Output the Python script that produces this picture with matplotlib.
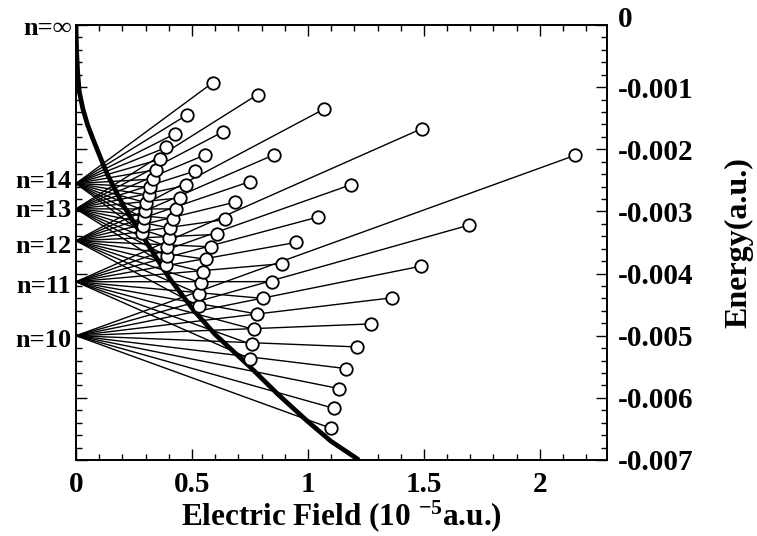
import numpy as np
import matplotlib
matplotlib.use("Agg")
import matplotlib.pyplot as plt
import matplotlib.transforms as mtransforms
from matplotlib.ticker import MultipleLocator

plt.rcParams['font.family'] = ['Liberation Serif', 'DejaVu Serif']
plt.rcParams['font.weight'] = 'bold'
plt.rcParams['axes.unicode_minus'] = False
plt.rcParams['mathtext.fontset'] = 'custom'
plt.rcParams['mathtext.rm'] = 'Liberation Serif:bold'
plt.rcParams['mathtext.it'] = 'Liberation Serif:bold'
plt.rcParams['mathtext.bf'] = 'Liberation Serif:bold'

# zero-field level energies (a.u.)
levels_n = [10, 11, 12, 13, 14]
level_E = [-0.005000, -0.004132, -0.003472, -0.002959, -0.002551]
level_labels = ['n=10', 'n=11', 'n=12', 'n=13', 'n=14']
label_E = [-0.00507, -0.00421, -0.00356, -0.00299, -0.00252]

# end points (circles) of each Stark state, field in 1e-5 a.u., energy in 1e-3 a.u.
end_F_n10 = [1.100, 1.113, 1.133, 1.166, 1.210, 1.274, 1.363, 1.489, 1.695, 2.150]
end_E_n10 = [-6.49, -6.17, -5.85, -5.53, -5.18, -4.81, -4.39, -3.88, -3.22, -2.10]

end_F_n11 = [0.750, 0.757, 0.769, 0.781, 0.807, 0.846, 0.890, 0.947, 1.044, 1.186, 1.490]
end_E_n11 = [-5.37, -5.14, -4.90, -4.65, -4.40, -4.13, -3.84, -3.50, -3.09, -2.57, -1.67]

end_F_n12 = [0.531, 0.531, 0.540, 0.547, 0.561, 0.582, 0.607, 0.644, 0.687, 0.750, 0.853, 1.071]
end_E_n12 = [-4.53, -4.33, -4.15, -3.97, -3.77, -3.57, -3.37, -3.13, -2.85, -2.52, -2.09, -1.35]

end_F_n13 = [0.389, 0.393, 0.393, 0.400, 0.407, 0.419, 0.433, 0.450, 0.476, 0.514, 0.557, 0.633, 0.783]
end_E_n13 = [-3.87, -3.72, -3.57, -3.43, -3.27, -3.12, -2.96, -2.78, -2.58, -2.35, -2.09, -1.72, -1.12]

end_F_n14 = [0.286, 0.290, 0.293, 0.296, 0.303, 0.313, 0.318, 0.331, 0.343, 0.364, 0.390, 0.427, 0.477, 0.589]
end_E_n14 = [-3.34, -3.23, -3.11, -2.99, -2.86, -2.74, -2.61, -2.48, -2.33, -2.16, -1.97, -1.75, -1.45, -0.93]

end_F = [end_F_n10, end_F_n11, end_F_n12, end_F_n13, end_F_n14]
end_E = [end_E_n10, end_E_n11, end_E_n12, end_E_n13, end_E_n14]

# classical saddle-point curve, energy in 1e-3 a.u.
saddle_F = [0.0, 0.001, 0.003, 0.007, 0.014, 0.029, 0.05, 0.078, 0.107, 0.136, 0.2,
            0.279, 0.4, 0.507, 0.6, 0.75, 0.87, 0.993, 1.1, 1.22]
saddle_E = [0.0, -0.2, -0.45, -0.75, -1.07, -1.34, -1.61, -1.88, -2.15, -2.41, -2.88,
            -3.35, -4.06, -4.59, -4.98, -5.5, -5.94, -6.36, -6.7, -7.0]

fig = plt.figure(figsize=(7.57, 5.36), dpi=100)
ax = fig.add_axes([0.1004, 0.1418, 0.7016, 0.8116])

for E0, Fs, Es in zip(level_E, end_F, end_E):
    for f, e in zip(Fs, Es):
        ax.plot([0, f], [E0, e * 1e-3], color='black', lw=1.0, zorder=2)

ax.plot(saddle_F, np.array(saddle_E) * 1e-3, color='black', lw=3.4,
        solid_capstyle='butt', zorder=3)

for Fs, Es in zip(end_F, end_E):
    ax.plot(Fs, np.array(Es) * 1e-3, 'o', ms=9, mfc='white', mec='black',
            mew=1.3, zorder=4)

ax.set_xlim(0, 2.29)
ax.set_ylim(-0.007, 0)
ax.xaxis.set_minor_locator(MultipleLocator(0.1))
ax.yaxis.set_minor_locator(MultipleLocator(0.0002))
ax.set_xticks([0, 0.5, 1, 1.5, 2])
ax.set_xticklabels(['0', '0.5', '1', '1.5', '2'])
yt = [0, -0.001, -0.002, -0.003, -0.004, -0.005, -0.006, -0.007]
ax.set_yticks(yt)
ax.set_yticklabels(['0', '-0.001', '-0.002', '-0.003', '-0.004', '-0.005', '-0.006', '-0.007'])

ax.tick_params(which='both', direction='in', top=True, right=True, left=True,
               labelleft=False, labelright=True, labelsize=21, width=1.0)
ax.tick_params(which='major', length=8)
ax.tick_params(which='minor', length=4)
ax.tick_params(axis='y', pad=8)
ax.tick_params(axis='x', pad=8)
for lab in ax.get_xticklabels() + ax.get_yticklabels():
    lab.set_fontweight('bold')
ylabs = ax.get_yticklabels()
ylabs[0].set_transform(ylabs[0].get_transform() +
                       mtransforms.ScaledTranslation(0, 6 / 72, fig.dpi_scale_trans))
for s in ax.spines.values():
    s.set_linewidth(1.4)

ax.yaxis.set_label_position('right')
ax.set_ylabel('Energy(a.u.)', fontsize=23, fontweight='bold', labelpad=22)
ax.set_xlabel('Electric Field (10 $^{-5}$a.u.)', fontsize=22.5, fontweight='bold', labelpad=0)

for lab, ey in zip(level_labels, label_E):
    ax.text(-0.02, ey, lab, ha='right', va='center', fontsize=19, fontweight='bold',
            clip_on=False)
ax.text(-0.02, -0.00005, 'n=\u221e', ha='right', va='center', fontsize=19,
        fontweight='bold', clip_on=False)

fig.savefig('out.png', dpi=100)
